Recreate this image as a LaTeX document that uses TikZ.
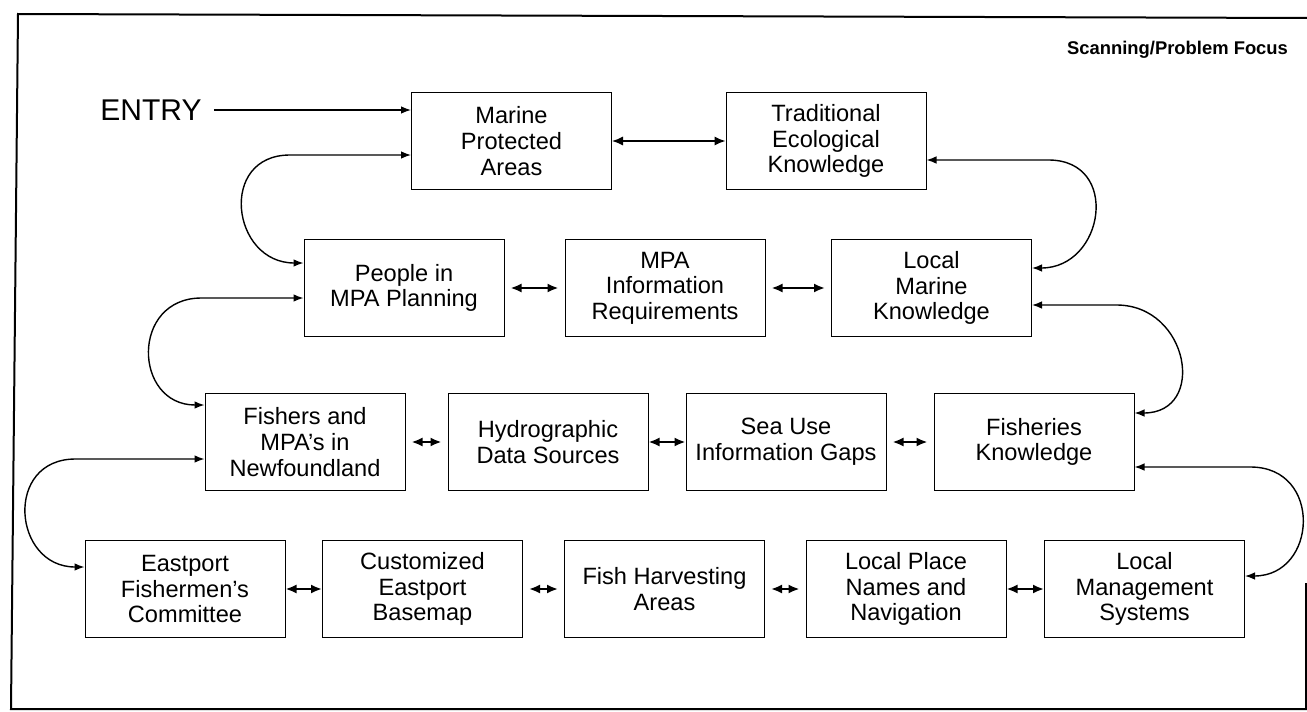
\documentclass[tikz,border=0pt]{standalone}
\usepackage{fontspec}
\setmainfont{Liberation Sans}
\usetikzlibrary{arrows.meta,calc,positioning}

\begin{document}
\begin{tikzpicture}[x=0.5pt,y=-0.5pt,
stage/.style={draw,rectangle,line width=0.5pt,minimum width=100pt,minimum height=48.5pt,
    align=center,inner sep=1pt,font=\fontsize{11.8}{12.8}\selectfont},
pair/.style={<->,>={Latex[length=5.5pt,width=4.6pt]},line width=1.2pt},
gap/.style={shorten <=3pt,shorten >=3pt},
loopback/.style={<->,>={Latex[length=5pt,width=3.8pt]},line width=0.7pt},
frame/.style={line width=1pt}]
\useasboundingbox (0,0) rectangle (1307,712);
\draw[frame] (1306,583) -- (1306,709) -- (11,709) -- (18,14) -- (1307,18);
\node[font=\bfseries\fontsize{9.2}{10}\selectfont,anchor=east] (focus) at (1295,50) {Scanning/Problem Focus};
\node[font=\fontsize{15}{18}\selectfont,inner sep=2pt] (entry) at (151,110) {ENTRY};
% top row
\node[stage] (mpa) at (511.5,141) {Marine\\Protected\\Areas};
\node[stage] (tek) at (826,141) {Traditional\\Ecological\\Knowledge};
% second row
\node[stage] (people) at (404,288) {People in\\MPA Planning};
\node[stage] (info) at (665,288) {MPA\\Information\\Requirements};
\node[stage] (lmk) at (931.5,288) {Local\\Marine\\Knowledge};
% third row
\node[stage] (fishers) at (305,442) {Fishers and\\MPA's in\\Newfoundland};
\node[stage] (hydro) at (548,442) {Hydrographic\\Data Sources};
\node[stage] (seause) at (786,442) {Sea Use\\Information Gaps};
\node[stage] (fisheries) at (1034,442) {Fisheries\\Knowledge};
% bottom row
\node[stage] (eastport) at (185,589) {Eastport\\Fishermen's\\Committee};
\node[stage] (basemap) at (422.5,589) {Customized\\Eastport\\Basemap};
\node[stage] (harvest) at (664.5,589) {Fish Harvesting\\Areas};
\node[stage] (placenames) at (906,589) {Local Place\\Names and\\Navigation};
\node[stage] (mgmt) at (1144.5,589) {Local\\Management\\Systems};

\draw[->,>={Latex[length=5pt,width=3.8pt]},line width=0.7pt,shorten <=4pt] (entry) -- (entry -| mpa.west);

\draw[pair,line width=0.8pt] (mpa) -- (tek);
\draw[pair,gap] (people) -- (info);
\draw[pair,gap] (info) -- (lmk);
\draw[pair,gap] (fishers) -- (hydro);
\draw[pair] (hydro) -- (seause);
\draw[pair,gap] (seause) -- (fisheries);
\draw[pair] (eastport) -- (basemap);
\draw[pair,gap] (basemap) -- (harvest);
\draw[pair,gap] (harvest) -- (placenames);
\draw[pair] (placenames) -- (mgmt);

% row to row
\draw[loopback] ($(mpa.west)+(0,14)$) -- ++(-121,0)
    to[out=180,in=180,looseness=1.7] ($(people.west)+(0,-25)$);
\draw[loopback] ($(tek.east)+(0,19)$) -- ++(122,0)
    to[out=0,in=0,looseness=1.7] ($(lmk.east)+(0,-20)$);
\draw[loopback] ($(people.west)+(0,10)$) -- ++(-102,0)
    to[out=180,in=180,looseness=1.7] ($(fishers.west)+(0,-37)$);
\draw[loopback] ($(lmk.east)+(0,17)$) -- ++(84.5,0)
    to[out=0,in=0,looseness=1.7] ($(fisheries.east)+(0,-29)$);
\draw[loopback] ($(fishers.west)+(0,17)$) -- ++(-129,0)
    to[out=180,in=180,looseness=1.7] ($(eastport.west)+(0,-22)$);
\draw[loopback] ($(fisheries.east)+(0,25)$) -- ++(116,0)
    to[out=0,in=0,looseness=1.7] ($(mgmt.east)+(0,-13)$);
\end{tikzpicture}
\end{document}
